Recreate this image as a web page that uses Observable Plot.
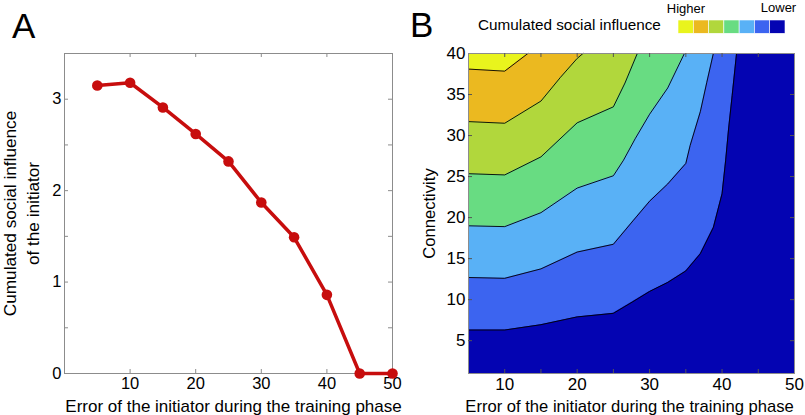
<!DOCTYPE html>
<html><head><meta charset="utf-8">
<script src="https://cdn.jsdelivr.net/npm/d3@7"></script>
<script src="https://cdn.jsdelivr.net/npm/@observablehq/plot@0.6"></script>
<style>
html,body{margin:0;padding:0;background:#fff;}
#wrap{position:relative;width:805px;height:415px;overflow:hidden;}
#wrap > svg{position:absolute;top:0;}
</style></head><body><div id="wrap"></div>
<script>
// ---------- Data ----------
const panelLabels = ["A", "B"];
const xTitle = "Error of the initiator during the training phase";
const yTitleA = ["Cumulated social influence", "of the initiator"];
const yTitleB = "Connectivity";
const legendTitle = "Cumulated social influence";
const legendEnds = ["Higher", "Lower"];

// Panel A
const errorA = [5, 10, 15, 20, 25, 30, 35, 40, 45, 50];
const influenceA = [3.15, 3.18, 2.91, 2.62, 2.32, 1.87, 1.49, 0.86, 0, 0];
const xDomainA = [0, 50];
const yDomainA = [0, 3.5];
const xTicksA = [10, 20, 30, 40, 50];
const yTicksA = [0, 0.5, 1, 1.5, 2, 2.5, 3, 3.5];
const yLabelsA = [0, 1, 2, 3];

// Panel B: contour boundaries [error, connectivity], from lowest level to highest
const contour1 = [[5,6.3],[10,6.3],[15,6.95],[20,7.9],[25,8.33],[27.6,9.7],[30,11.0],[32.5,12.1],[35,13.5],[37,15.6],[38.8,18.8],[40,22.9],[40.5,27],[40.9,30.8],[41.4,34.9],[42,40]];
const contour2 = [[5,12.7],[10,12.6],[15,13.75],[20,15.8],[25,16.75],[27.7,19.6],[30,22.0],[32.5,24.1],[35,26.6],[35.6,28.8],[37,32.9],[37.9,36.5],[38.8,40]];
const contour3 = [[5,19.0],[10,18.9],[15,20.6],[20,23.6],[25,25.1],[26.4,27],[28,29.6],[30,32.6],[32.5,35.8],[34.8,40]];
const contour4 = [[5,25.35],[10,25.2],[15,27.4],[20,31.55],[25,33.5],[26.6,36.4],[28.3,40]];
const contour5 = [[5,31.7],[10,31.5],[15,34.2],[17.7,37.1],[20,39.4],[20.8,40]];
const contour6 = [[5,38.1],[10,37.85],[13.2,40]];
const contours = [contour1, contour2, contour3, contour4, contour5, contour6];
// band colours, lowest to highest
const bandColors = ["#0404b2", "#3c64f0", "#59b1f6", "#68dc82", "#b1d73c", "#ebb920", "#e9f41d"];
const xDomainB = [5, 50];
const yDomainB = [1, 40];
const xTicksB = [10, 15, 20, 25, 30, 35, 40, 45];
const xLabelsB = [10, 20, 30, 40, 50];
const yTicksB = [5, 10, 15, 20, 25, 30, 35];
const yLabelsB = [5, 10, 15, 20, 25, 30, 35, 40];

// ---------- Drawing ----------
const FONT = '"Liberation Sans", Arial, Helvetica, sans-serif';
const TICK = 4;
const frameColor = "#8c8c8c";
const red = "#c70d0d";
const fmt = d3.format("d");
const wrap = document.getElementById("wrap");

// Panel A
const A = {width: 400, height: 415, ml: 64, mr: 8, mt: 53, mb: 42};
const fwA = A.width - A.ml - A.mr, fhA = A.height - A.mt - A.mb;
const ptsA = errorA.map((e, i) => ({e, v: influenceA[i]}));
const plotA = Plot.plot({
  width: A.width, height: A.height,
  marginLeft: A.ml, marginRight: A.mr, marginTop: A.mt, marginBottom: A.mb,
  style: {fontFamily: FONT, fontSize: "16px", color: "#000", background: "transparent", overflow: "visible"},
  x: {domain: xDomainA}, y: {domain: yDomainA},
  marks: [
    Plot.frame({stroke: frameColor}),
    Plot.tickY(yTicksA, {y: d => d, insetRight: fwA - TICK, stroke: frameColor}),
    Plot.tickY(yTicksA, {y: d => d, insetLeft: fwA - TICK, stroke: frameColor}),
    Plot.tickX(xTicksA, {x: d => d, insetTop: fhA - TICK, stroke: frameColor}),
    Plot.tickX(xTicksA, {x: d => d, insetBottom: fhA - TICK, stroke: frameColor}),
    Plot.axisX(xTicksA, {tickSize: 0, tickPadding: 4, label: null, fontSize: 16.5, tickFormat: fmt}),
    Plot.axisY(yLabelsA, {tickSize: 0, tickPadding: 3, label: null, fontSize: 16.5, tickFormat: fmt}),
    Plot.line(ptsA, {x: "e", y: "v", stroke: red, strokeWidth: 3.5}),
    Plot.dot(ptsA, {x: "e", y: "v", r: 5.3, fill: red}),
    Plot.text([xTitle], {text: d => d, frameAnchor: "bottom", textAnchor: "middle", dx: 5, dy: 38, lineAnchor: "bottom", fontSize: 17}),
    Plot.text([yTitleA[0]], {text: d => d, frameAnchor: "left", textAnchor: "middle", rotate: -90, dx: 15.5 - A.ml, lineAnchor: "bottom", fontSize: 17.2}),
    Plot.text([yTitleA[1]], {text: d => d, frameAnchor: "left", textAnchor: "middle", rotate: -90, dx: 38.8 - A.ml, lineAnchor: "bottom", fontSize: 17.2})
  ]
});
plotA.style.left = "0px";
wrap.appendChild(plotA);

// Panel B
const B = {left: 400, width: 405, height: 415, ml: 68, mr: 11, mt: 53, mb: 42};
const fwB = B.width - B.ml - B.mr, fhB = B.height - B.mt - B.mb;
const plotB = Plot.plot({
  width: B.width, height: B.height,
  marginLeft: B.ml, marginRight: B.mr, marginTop: B.mt, marginBottom: B.mb,
  style: {fontFamily: FONT, fontSize: "16.5px", color: "#000", background: "transparent", overflow: "visible"},
  x: {domain: xDomainB}, y: {domain: yDomainB},
  marks: [
    Plot.frame({fill: bandColors[0]}),
    ...contours.map((c, k) => Plot.areaY(c, {x: d => d[0], y1: d => d[1], y2: () => yDomainB[1], fill: bandColors[k + 1]})),
    ...contours.map(c => Plot.line(c, {x: d => d[0], y: d => d[1], stroke: "#000", strokeWidth: 0.9})),
    Plot.frame({stroke: frameColor}),
    Plot.tickY(yTicksB, {y: d => d, insetRight: fwB - TICK, stroke: "#555"}),
    Plot.tickY(yTicksB, {y: d => d, insetLeft: fwB - TICK, stroke: "#555"}),
    Plot.tickX(xTicksB, {x: d => d, insetTop: fhB - TICK, stroke: "#555"}),
    Plot.tickX(xTicksB, {x: d => d, insetBottom: fhB - TICK, stroke: "#555"}),
    Plot.axisX(xLabelsB, {tickSize: 0, tickPadding: 4, label: null, fontSize: 17, tickFormat: fmt}),
    Plot.axisY(yLabelsB, {tickSize: 0, tickPadding: 3, label: null, fontSize: 17, tickFormat: fmt}),
    Plot.text([xTitle], {text: d => d, frameAnchor: "bottom", textAnchor: "middle", dx: -2, dy: 38.3, lineAnchor: "bottom", fontSize: 16.6}),
    Plot.text([yTitleB], {text: d => d, frameAnchor: "left", textAnchor: "middle", rotate: -90, dx: 34.5 - B.ml, lineAnchor: "bottom", fontSize: 16.6})
  ]
});
plotB.style.left = B.left + "px";
wrap.appendChild(plotB);

// Overlay: panel letters and legend
const ov = d3.select(wrap).append("svg")
  .attr("width", 805).attr("height", 415)
  .style("position", "absolute").style("left", "0px").style("top", "0px")
  .style("font-family", FONT);
ov.append("text").attr("x", 12).attr("y", 38).attr("font-size", 35).text(panelLabels[0]);
ov.append("text").attr("x", 410).attr("y", 37).attr("font-size", 35).text(panelLabels[1]);
ov.append("text").attr("x", 478).attr("y", 30).attr("font-size", 15.3).text(legendTitle);
const legColors = bandColors.slice().reverse();
const sx = d3.scaleBand().domain(d3.range(legColors.length)).range([678, 785]);
ov.selectAll("rect.sw").data(legColors).join("rect")
  .attr("x", (d, i) => sx(i)).attr("y", 20)
  .attr("width", sx.bandwidth()).attr("height", 13.3)
  .attr("fill", d => d).attr("stroke", "#fff").attr("stroke-width", 0.6);
ov.append("text").attr("x", 686).attr("y", 13).attr("font-size", 13).attr("text-anchor", "middle").text(legendEnds[0]);
ov.append("text").attr("x", 778.5).attr("y", 12).attr("font-size", 13).attr("text-anchor", "middle").text(legendEnds[1]);
</script></body></html>
